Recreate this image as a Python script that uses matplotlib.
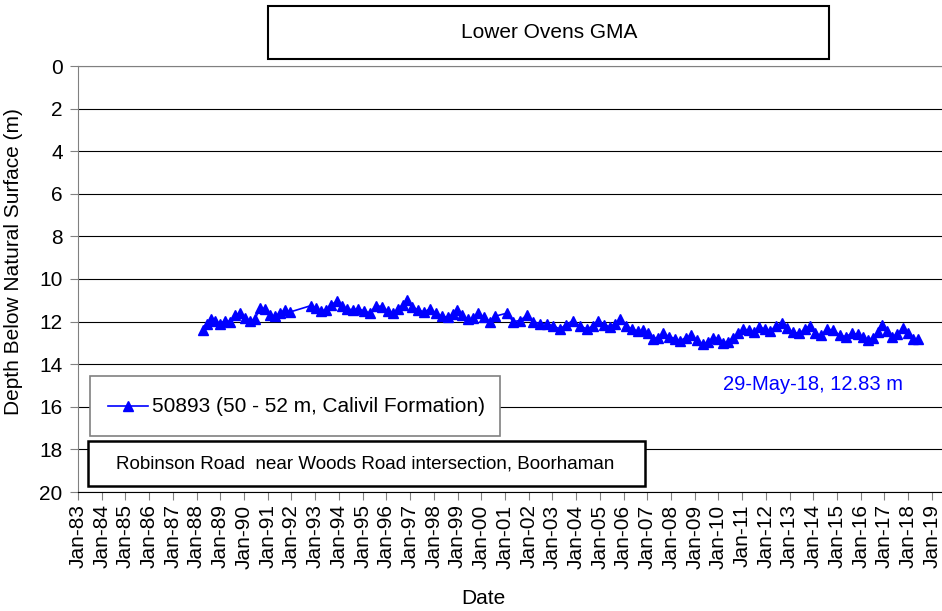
import matplotlib
matplotlib.use("Agg")
import matplotlib.pyplot as plt
from matplotlib.patches import Rectangle
from matplotlib.lines import Line2D

plt.rcParams['font.family'] = ['Liberation Sans', 'DejaVu Sans']

# fechas en años decimales, profundidad en m
anios = [1988.27, 1988.44, 1988.61, 1988.78, 1988.99, 1989.20, 1989.41, 1989.62, 1989.83,
         1990.04, 1990.25, 1990.46, 1990.67, 1990.88, 1991.09, 1991.31, 1991.52, 1991.73,
         1991.94, 1992.82, 1993.03, 1993.24, 1993.46, 1993.67, 1993.92, 1994.13, 1994.34,
         1994.59, 1994.80, 1995.06, 1995.31, 1995.56, 1995.82, 1996.07, 1996.28, 1996.49,
         1996.70, 1996.87, 1997.08, 1997.33, 1997.59, 1997.84, 1998.09, 1998.35, 1998.60,
         1998.81, 1998.98, 1999.19, 1999.44, 1999.65, 1999.86, 2000.12, 2000.37, 2000.58,
         2001.09, 2001.34, 2001.63, 2001.93, 2002.18, 2002.48, 2002.77, 2003.03, 2003.32,
         2003.57, 2003.87, 2004.16, 2004.46, 2004.71, 2004.92, 2005.18, 2005.43, 2005.64,
         2005.85, 2006.10, 2006.36, 2006.61, 2006.82, 2007.03, 2007.24, 2007.45, 2007.66,
         2007.92, 2008.17, 2008.38, 2008.63, 2008.84, 2009.10, 2009.35, 2009.56, 2009.77,
         2009.98, 2010.19, 2010.40, 2010.61, 2010.82, 2011.04, 2011.29, 2011.50, 2011.71,
         2011.96, 2012.17, 2012.43, 2012.68, 2012.89, 2013.14, 2013.40, 2013.65, 2013.86,
         2014.07, 2014.32, 2014.58, 2014.83, 2015.12, 2015.38, 2015.63, 2015.88, 2016.09,
         2016.31, 2016.52, 2016.73, 2016.90, 2017.11, 2017.32, 2017.53, 2017.78, 2017.99,
         2018.20, 2018.41]
profundidad = [12.4, 12.1, 11.9, 11.95, 12.1, 11.95, 12.0, 11.7, 11.6,
               11.85, 11.95, 11.9, 11.35, 11.4, 11.7, 11.75, 11.6, 11.45,
               11.55, 11.25, 11.35, 11.5, 11.45, 11.2, 11.05, 11.25, 11.4,
               11.45, 11.4, 11.5, 11.6, 11.25, 11.3, 11.5, 11.6, 11.4,
               11.2, 11.0, 11.3, 11.45, 11.55, 11.4, 11.6, 11.75, 11.8,
               11.65, 11.45, 11.7, 11.9, 11.85, 11.6, 11.8, 12.0, 11.75,
               11.6, 12.0, 11.95, 11.7, 12.0, 12.1, 12.1, 12.2, 12.35,
               12.15, 11.95, 12.2, 12.35, 12.2, 11.95, 12.15, 12.25, 12.1,
               11.9, 12.2, 12.35, 12.45, 12.4, 12.55, 12.8, 12.75, 12.55,
               12.7, 12.8, 12.9, 12.75, 12.65, 12.85, 13.05, 12.95, 12.75,
               12.8, 13.0, 12.95, 12.75, 12.55, 12.35, 12.4, 12.5, 12.25,
               12.35, 12.45, 12.2, 12.05, 12.3, 12.5, 12.55, 12.35, 12.2,
               12.55, 12.65, 12.35, 12.4, 12.65, 12.7, 12.55, 12.6, 12.7,
               12.85, 12.75, 12.5, 12.15, 12.45, 12.7, 12.6, 12.3, 12.55,
               12.8, 12.83]
anios_ticks = list(range(1983, 2020))
etiquetas_ticks = ["Jan-%02d" % (a % 100) for a in anios_ticks]

W, H = 942, 611
fig = plt.figure(figsize=(W / 100, H / 100), dpi=100)
ax = fig.add_axes([78 / W, 1 - 492 / H, (W - 78) / W, 426 / H])

ax.plot(anios, profundidad, color="blue", linewidth=1.2, marker="^",
        markersize=6.5, markerfacecolor="blue", markeredgecolor="blue", zorder=3)

ax.set_xlim(1983, 1983 + (W - 78) / 23.72)
ax.set_ylim(20, 0)
ax.set_yticks(range(0, 21, 2))
ax.set_xticks(anios_ticks)
ax.set_xticklabels(etiquetas_ticks, rotation=90, fontsize=15)
ax.tick_params(axis="y", labelsize=15, length=6, color="#808080", direction="out", pad=5)
ax.tick_params(axis="x", length=6, color="#808080", direction="out", pad=3)
ax.grid(axis="y", color="black", linewidth=0.8)
for lado in ["left", "top"]:
    ax.spines[lado].set_color("#808080")
ax.spines["bottom"].set_color("black")
ax.spines["right"].set_visible(False)
fig.text(14 / W, 1 - 262 / H, "Depth Below Natural Surface (m)", fontsize=15,
         rotation=90, ha="center", va="center")
fig.text(483 / W, 1 - 599 / H, "Date", fontsize=15, ha="center", va="center")

def caja(x0, y0, x1, y1, color="black", lw=1.5):
    fig.patches.append(Rectangle((x0 / W, 1 - y1 / H), (x1 - x0) / W, (y1 - y0) / H,
                                 transform=fig.transFigure, facecolor="white",
                                 edgecolor=color, linewidth=lw, zorder=5))

# titulo
caja(268, 6, 829, 59)
fig.text(549 / W, 1 - 32 / H, "Lower Ovens GMA", fontsize=15, ha="center", va="center", zorder=6)

# leyenda
caja(90, 376, 500, 436, color="#808080", lw=1.2)
fig.lines.append(Line2D([108 / W, 148 / W], [1 - 406 / H, 1 - 406 / H], transform=fig.transFigure,
                        color="blue", linewidth=1.2, zorder=6))
fig.lines.append(Line2D([128 / W], [1 - 406 / H], transform=fig.transFigure,
                        color="blue", marker="^", markersize=7, linestyle="none", zorder=6))
fig.text(152 / W, 1 - 406 / H, "50893 (50 - 52 m, Calivil Formation)", fontsize=15,
         ha="left", va="center", zorder=6)

# ubicacion
caja(88, 441, 645, 486, lw=1.8)
fig.text(116 / W, 1 - 464 / H, "Robinson Road  near Woods Road intersection, Boorhaman",
         fontsize=13.5, ha="left", va="center", zorder=6)

# ultimo dato
fig.text(813 / W, 1 - 385 / H, "29-May-18, 12.83 m", fontsize=14.5, color="blue",
         ha="center", va="center")

fig.savefig("out.png", dpi=100)
